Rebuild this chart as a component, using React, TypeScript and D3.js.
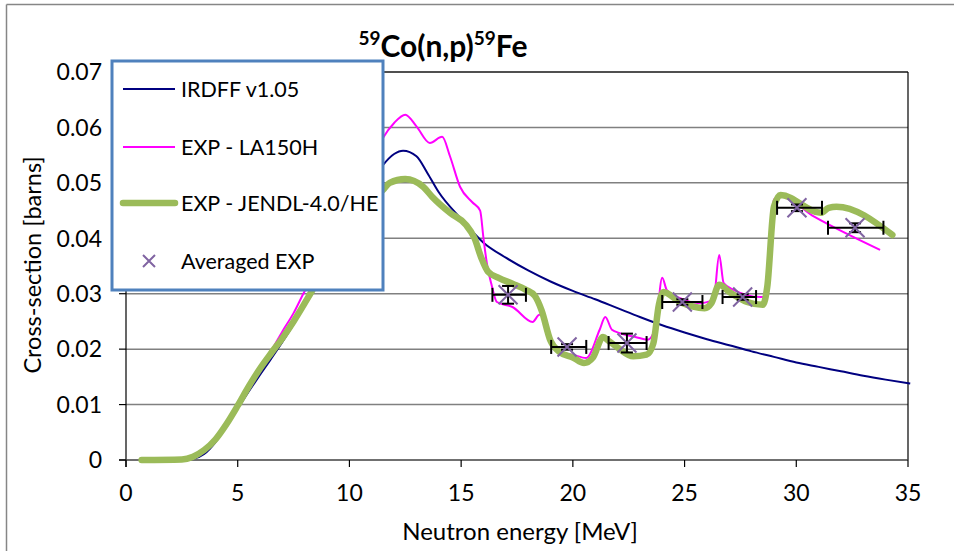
import * as d3 from "d3";

// IRDFF v1.05 evaluation
const irdffE = [0.8, 2.5, 3, 3.5, 4, 4.5, 5, 5.5, 6, 6.5, 7, 7.5, 8, 8.5, 9, 10, 11, 11.5, 12, 12.4, 13, 13.5, 14, 15, 16, 17, 18, 19, 20, 21, 22, 23, 24, 25, 26, 27, 28, 29, 30, 31, 32, 33, 34, 35.1];
const irdffS = [0, 0, 0.0002, 0.0011, 0.0032, 0.0062, 0.0093, 0.0124, 0.0154, 0.0183, 0.0213, 0.0245, 0.028, 0.0315, 0.0352, 0.0425, 0.0503, 0.0532, 0.0552, 0.0558, 0.0548, 0.0517, 0.0483, 0.0435, 0.0392, 0.0365, 0.0342, 0.0322, 0.0305, 0.029, 0.0274, 0.0258, 0.0243, 0.023, 0.0218, 0.0207, 0.0196, 0.0186, 0.0176, 0.0168, 0.016, 0.0152, 0.0145, 0.0138];

// EXP - LA150H
const laE = [0.7, 2.5, 3, 3.5, 4, 4.5, 5, 5.5, 6, 6.5, 7, 7.5, 8, 8.5, 9, 10, 11, 11.5, 12, 12.5, 13, 13.6, 14.15, 14.5, 14.95, 15.5, 15.85, 16.0, 16.15, 16.35, 16.6, 17.3, 18.2, 18.5, 18.8, 19.0, 19.4, 20.0, 20.6, 21.2, 21.45, 21.75, 22.1, 22.8, 23.35, 23.7, 24.0, 24.2, 24.8, 25.7, 26.3, 26.55, 26.75, 27.2, 28.4, 28.7, 29.0, 29.3, 30.8, 33.75];
const laS = [0, 0.0001, 0.0006, 0.0018, 0.0037, 0.0065, 0.0098, 0.0132, 0.0165, 0.0197, 0.0232, 0.0265, 0.0305, 0.034, 0.038, 0.046, 0.054, 0.0581, 0.0608, 0.0623, 0.0602, 0.0572, 0.0583, 0.0548, 0.0493, 0.0465, 0.045, 0.04, 0.0355, 0.0318, 0.0285, 0.0276, 0.0249, 0.0262, 0.0253, 0.0211, 0.0195, 0.019, 0.0184, 0.0235, 0.0258, 0.0235, 0.0229, 0.0222, 0.0217, 0.024, 0.0329, 0.0307, 0.0292, 0.0283, 0.029, 0.037, 0.0319, 0.0307, 0.0294, 0.0294, 0.047, 0.0475, 0.0439, 0.0379];

// EXP - JENDL-4.0/HE
const jeE = [0.7, 2.5, 3, 3.5, 4, 4.5, 5, 5.5, 6, 6.5, 7, 7.5, 8, 8.5, 9, 10, 11, 11.5, 11.8, 12.5, 13.3, 13.7, 14.5, 15.2, 15.6, 15.9, 16.2, 16.7, 17.3, 17.9, 18.3, 18.6, 19.0, 19.4, 20.0, 20.5, 20.9, 21.35, 21.6, 22.0, 22.7, 23.3, 23.6, 23.85, 24.05, 24.8, 25.9, 26.2, 26.55, 27.0, 27.8, 28.5, 28.7, 29.0, 29.3, 31.1, 31.45, 31.8, 34.3];
const jeS = [0, 0.0001, 0.0006, 0.0018, 0.0037, 0.0065, 0.0098, 0.0133, 0.0165, 0.0193, 0.022, 0.025, 0.0283, 0.0318, 0.036, 0.0425, 0.047, 0.0487, 0.05, 0.0507, 0.0493, 0.0475, 0.0446, 0.0425, 0.04, 0.0365, 0.034, 0.0328, 0.0318, 0.0307, 0.0296, 0.027, 0.0215, 0.0195, 0.0185, 0.0175, 0.0185, 0.0222, 0.0215, 0.0203, 0.0187, 0.019, 0.021, 0.028, 0.0303, 0.0285, 0.0274, 0.0283, 0.0316, 0.0303, 0.0285, 0.028, 0.0312, 0.0457, 0.0478, 0.0446, 0.0455, 0.0457, 0.0406];

// Averaged EXP with energy bins and uncertainty
const avgE = [17.1, 19.74, 22.42, 24.9, 27.6, 30.03, 32.63];
const avgS = [0.0298, 0.0204, 0.0211, 0.0285, 0.0294, 0.0455, 0.0419];
const avgELo = [16.4, 19.03, 21.6, 24.0, 26.7, 29.14, 31.42];
const avgEHi = [17.9, 20.6, 23.3, 25.8, 28.2, 31.15, 33.9];
const avgErr = [0.0016, 0.0005, 0.0017, 0.0005, 0.0005, 0.0006, 0.0008];

const xTicks = [0, 5, 10, 15, 20, 25, 30, 35];
const yTicks = [0, 0.01, 0.02, 0.03, 0.04, 0.05, 0.06, 0.07];

const font = "Lato, 'Open Sans', sans-serif";

const Cross = ({ x, y, r }: { x: number; y: number; r: number }) => (
  <path d={`M${x - r},${y - r}L${x + r},${y + r}M${x - r},${y + r}L${x + r},${y - r}`} stroke="#8064A2" strokeWidth={2} fill="none" />
);

export default function App() {
  const width = 954;
  const height = 551;
  const margin = { left: 126, right: 46, top: 72, bottom: 91 };

  const x = d3.scaleLinear().domain([0, 35]).range([margin.left, width - margin.right]);
  const y = d3.scaleLinear().domain([0, 0.07]).range([height - margin.bottom, margin.top]);

  const lineGen = d3
    .line<[number, number]>()
    .x((d) => x(d[0]))
    .y((d) => y(d[1]))
    .curve(d3.curveMonotoneX);

  const irdff = lineGen(irdffE.map((e, i) => [e, irdffS[i]]));
  const la = lineGen(laE.map((e, i) => [e, laS[i]]));
  const je = lineGen(jeE.map((e, i) => [e, jeS[i]]));

  const x0 = x(0), x1 = x(35), y0 = y(0), y1 = y(0.07);

  const legend = { x: 112, y: 61, w: 271, h: 229 };
  const legendRows = [89, 147, 203, 261];

  return (
    <div style={{ position: "fixed", left: 0, top: 0 }}>
      <svg width={width} height={height} style={{ display: "block", background: "#fff" }} fontFamily={font}>
        {/* chart border */}
        <line x1={6.5} y1={4.5} x2={width} y2={4.5} stroke="#868686" strokeWidth={1.5} />
        <line x1={6.5} y1={4.5} x2={6.5} y2={height} stroke="#868686" strokeWidth={1.5} />

        {/* title */}
        <text x={443} y={57} textAnchor="middle" fontWeight="bold" fontSize={30} fill="#000">
          <tspan fontSize={19} dy={-12}>59</tspan>
          <tspan dy={12}>Co(n,p)</tspan>
          <tspan fontSize={19} dy={-12}>59</tspan>
          <tspan dy={12}>Fe</tspan>
        </text>

        {/* grid */}
        {yTicks.slice(1).map((t) => (
          <line key={t} x1={x0} x2={x1} y1={y(t)} y2={y(t)} stroke="#808080" strokeWidth={1.5} />
        ))}
        <line x1={x0} x2={x1} y1={y1} y2={y1} stroke="#000" strokeWidth={1} />
        <line x1={x1} x2={x1} y1={y1} y2={y0} stroke="#000" strokeWidth={1.2} />

        {/* axes */}
        <line x1={x0} x2={x0} y1={y1} y2={y0 + 7} stroke="#000" strokeWidth={1.2} />
        <line x1={x0 - 7} x2={x1} y1={y0} y2={y0} stroke="#404040" strokeWidth={1.5} />
        {yTicks.map((t) => (
          <g key={t}>
            <line x1={x0 - 7} x2={x0} y1={y(t)} y2={y(t)} stroke="#000" strokeWidth={1.2} />
            <text x={102} y={y(t)} dy="0.36em" textAnchor="end" fontSize={23} fill="#000">
              {t === 0 ? "0" : t.toFixed(2)}
            </text>
          </g>
        ))}
        {xTicks.map((t) => (
          <g key={t}>
            <line x1={x(t)} x2={x(t)} y1={y0} y2={y0 + 7} stroke="#000" strokeWidth={1.2} />
            <text x={x(t)} y={501} textAnchor="middle" fontSize={23} fill="#000">
              {t}
            </text>
          </g>
        ))}
        <text x={520} y={540} textAnchor="middle" fontSize={24} fill="#000">
          Neutron energy [MeV]
        </text>
        <text transform="translate(41,265) rotate(-90)" textAnchor="middle" fontSize={23.5} fill="#000">
          Cross-section [barns]
        </text>

        {/* series */}
        <path d={irdff ?? ""} fill="none" stroke="#000080" strokeWidth={2} />
        <path d={la ?? ""} fill="none" stroke="#FF00FF" strokeWidth={2} />
        <path d={je ?? ""} fill="none" stroke="#9BBB59" strokeWidth={6.5} strokeLinecap="round" strokeLinejoin="round" />

        {/* averaged experimental points */}
        {avgE.map((e, i) => (
          <g key={e} stroke="#000" strokeWidth={2}>
            <line x1={x(avgELo[i])} x2={x(avgEHi[i])} y1={y(avgS[i])} y2={y(avgS[i])} />
            <line x1={x(avgELo[i])} x2={x(avgELo[i])} y1={y(avgS[i]) - 7} y2={y(avgS[i]) + 7} />
            <line x1={x(avgEHi[i])} x2={x(avgEHi[i])} y1={y(avgS[i]) - 7} y2={y(avgS[i]) + 7} />
            <line x1={x(e)} x2={x(e)} y1={y(avgS[i] - avgErr[i])} y2={y(avgS[i] + avgErr[i])} />
            <line x1={x(e) - 6} x2={x(e) + 6} y1={y(avgS[i] - avgErr[i])} y2={y(avgS[i] - avgErr[i])} />
            <line x1={x(e) - 6} x2={x(e) + 6} y1={y(avgS[i] + avgErr[i])} y2={y(avgS[i] + avgErr[i])} />
          </g>
        ))}
        {avgE.map((e, i) => (
          <Cross key={e} x={x(e)} y={y(avgS[i])} r={9.5} />
        ))}

        {/* legend */}
        <rect x={legend.x} y={legend.y} width={legend.w} height={legend.h} fill="#fff" stroke="#4F81BD" strokeWidth={3} />
        <line x1={123} x2={175} y1={legendRows[0]} y2={legendRows[0]} stroke="#000080" strokeWidth={2} />
        <line x1={123} x2={175} y1={legendRows[1]} y2={legendRows[1]} stroke="#FF00FF" strokeWidth={2} />
        <line x1={123} x2={175} y1={legendRows[2]} y2={legendRows[2]} stroke="#9BBB59" strokeWidth={6.5} strokeLinecap="round" />
        <Cross x={149} y={legendRows[3]} r={6} />
        {["IRDFF v1.05", "EXP - LA150H", "EXP - JENDL-4.0/HE", "Averaged EXP"].map((s, i) => (
          <text key={s} x={181} y={legendRows[i]} dy="0.36em" fontSize={21.5} fill="#000">
            {s}
          </text>
        ))}
      </svg>
    </div>
  );
}
